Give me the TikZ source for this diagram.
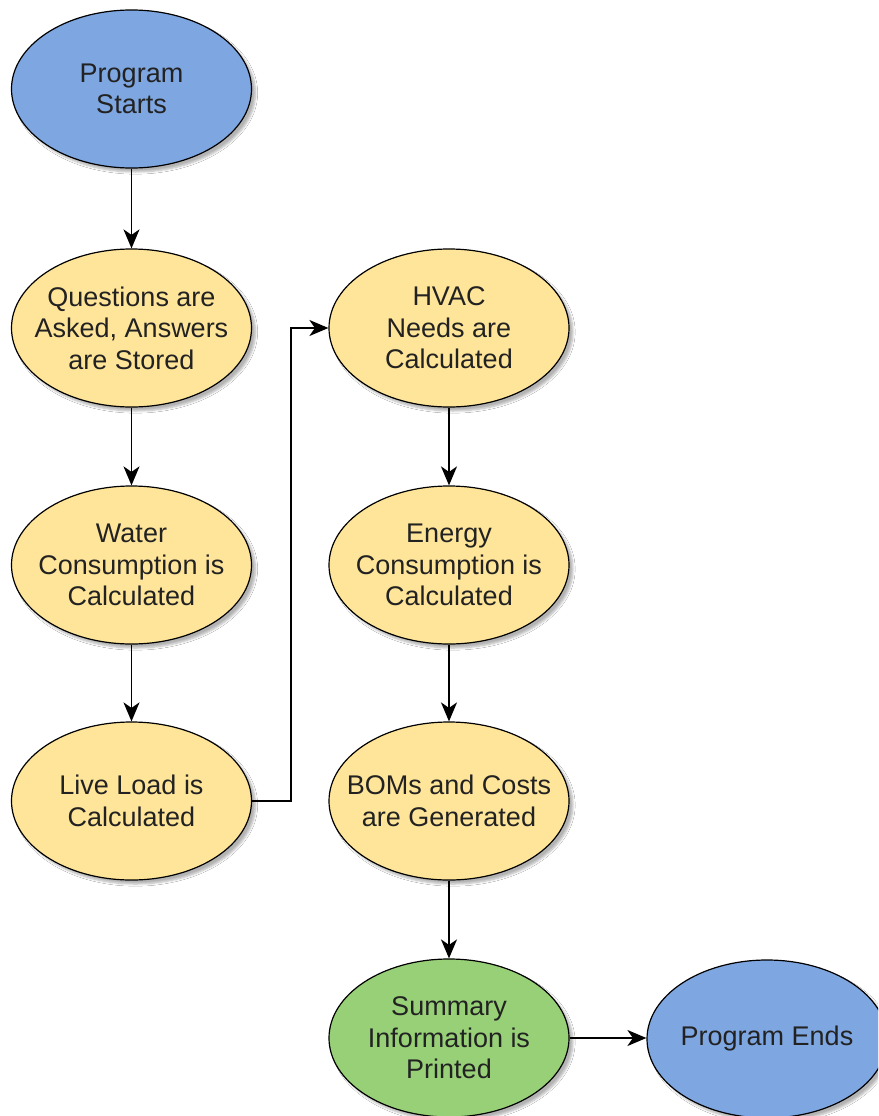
\documentclass[tikz,border=0pt]{standalone}
\usepackage{fontspec}
\setmainfont{Liberation Sans}
\usetikzlibrary{shapes.geometric,arrows.meta,shadows.blur}
\definecolor{startblue}{HTML}{7EA6E0}
\definecolor{stepyellow}{HTML}{FFE599}
\definecolor{outgreen}{HTML}{97D077}
\definecolor{txt}{HTML}{222222}
\tikzset{
  x=1pt,y=1pt,
  blob/.style={ellipse,draw=black,line width=1.2pt,minimum width=240pt,minimum height=158pt,
    inner xsep=-40pt,inner ysep=0pt,align=center,text=txt,font=\fontsize{27}{31.5}\selectfont,
    blur shadow={shadow xshift=4pt,shadow yshift=-4pt,shadow blur steps=6,shadow opacity=30}},
  terminal/.style={blob,fill=startblue},
  process/.style={blob,fill=stepyellow},
  output/.style={blob,fill=outgreen},
  flow/.style={line width=1.9pt,-{Stealth[length=19pt,width=16pt,inset=5.5pt]}}
}
\begin{document}
\begin{tikzpicture}
\useasboundingbox (0,0) rectangle (878,-1116);
\clip (0,0) rectangle (878,-1116);
\fill[white] (0,0) rectangle (878,-1116);

\node[terminal] (start)  at (131.5,-89)   {Program\\Starts};
\node[process]  (ask)    at (131.5,-328)  {Questions are\\Asked, Answers\\are Stored};
\node[process]  (water)  at (131.5,-565)  {Water\\Consumption is\\Calculated};
\node[process]  (live)   at (131.5,-801)  {Live Load is\\Calculated};
\node[process]  (hvac)   at (449,-328)    {HVAC\\Needs are\\Calculated};
\node[process]  (energy) at (449,-565)    {Energy\\Consumption is\\Calculated};
\node[process]  (bom)    at (449,-801)    {BOMs and Costs\\are Generated};
\node[output]   (summ)   at (449,-1038)   {Summary\\Information is\\Printed};
\node[terminal] (finish) at (767,-1039)   {Program Ends};

\draw[flow] (start) -- (ask);
\draw[flow] (ask) -- (water);
\draw[flow] (water) -- (live);
\draw[flow] (live.east) -- ++(39,0) |- (hvac.west);
\draw[flow] (hvac) -- (energy);
\draw[flow] (energy) -- (bom);
\draw[flow] (bom) -- (summ);
\draw[flow] (summ.east) -- (summ.east -| finish.west);
\end{tikzpicture}
\end{document}
